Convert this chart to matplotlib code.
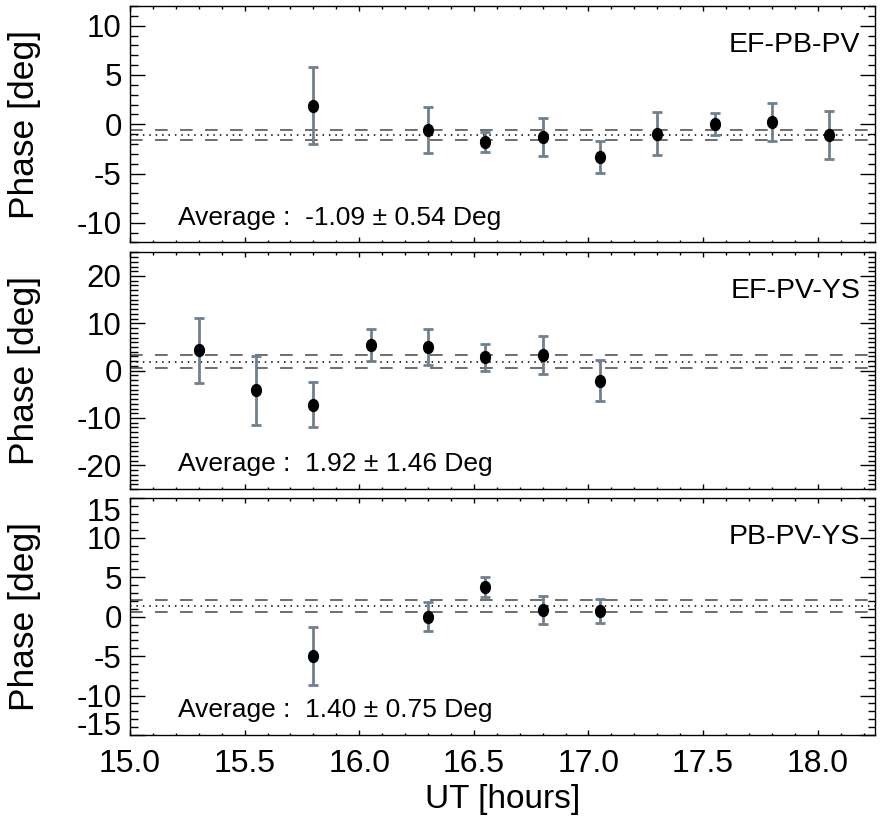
import numpy as np
import matplotlib
matplotlib.use("Agg")
import matplotlib.pyplot as plt
from matplotlib.path import Path
from matplotlib.ticker import MultipleLocator, FormatStrFormatter

plt.rcParams['font.family'] = ['Liberation Sans', 'DejaVu Sans']
plt.rcParams['axes.unicode_minus'] = False

# ---- data -------------------------------------------------------------
baselines = ["EF-PB-PV", "EF-PV-YS", "PB-PV-YS"]

ut_a = [15.80, 16.30, 16.55, 16.80, 17.05, 17.30, 17.55, 17.80, 18.05]
phase_a = [1.9, -0.6, -1.8, -1.3, -3.3, -0.95, 0.05, 0.25, -1.1]
err_a = [3.9, 2.35, 1.0, 1.9, 1.6, 2.2, 1.1, 1.9, 2.45]

ut_b = [15.30, 15.55, 15.80, 16.05, 16.30, 16.55, 16.80, 17.05]
phase_b = [4.3, -4.1, -7.2, 5.4, 5.0, 2.8, 3.3, -2.1]
err_b = [6.9, 7.3, 4.7, 3.4, 3.9, 2.8, 4.1, 4.3]

ut_c = [15.80, 16.30, 16.55, 16.80, 17.05]
phase_c = [-5.0, 0.0, 3.75, 0.85, 0.7]
err_c = [3.7, 1.8, 1.3, 1.8, 1.55]

avg_values = [-1.09, 1.92, 1.40]
avg_errors = [0.54, 1.46, 0.75]

y_limits = [(-12, 12), (-25, 25), (-15, 15)]
y_ticks = [[-10, -5, 0, 5, 10], [-20, -10, 0, 10, 20], [-15, -10, -5, 0, 5, 10, 15]]

x_limits = (15.0, 18.25)
x_ticks = [15.0, 15.5, 16.0, 16.5, 17.0, 17.5, 18.0]

series = [(ut_a, phase_a, err_a), (ut_b, phase_b, err_b), (ut_c, phase_c, err_c)]

# ---- layout -------------------------------------------------------------
W, H = 880, 822
fig = plt.figure(figsize=(W / 100, H / 100), dpi=100)

panel_px = [(6.0, 242.5), (252.3, 489.0), (498.3, 735.0)]
left_px, right_px = 130.0, 875.0

# slightly tall ellipse marker
circ = Path.unit_circle()
ell = Path(circ.vertices * np.array([0.82, 1.0]), circ.codes)

bar_color = "#6f8090"
dash_color = "#555555"

axes = []
for i, (top, bot) in enumerate(panel_px):
    ax = fig.add_axes([left_px / W, 1 - bot / H, (right_px - left_px) / W, (bot - top) / H])
    axes.append(ax)
    t, p, e = series[i]

    avg, aerr = avg_values[i], avg_errors[i]
    ax.axhline(avg, color="black", lw=1.1, ls=(0, (1, 3.2)), zorder=1)
    for yv in (avg - aerr, avg + aerr):
        ax.axhline(yv, color=dash_color, lw=1.2, ls=(0, (7.6, 7.4)), zorder=1)

    ax.errorbar(t, p, yerr=e, fmt="none", ecolor=bar_color, elinewidth=2.0,
                capsize=3.8, capthick=2.0, zorder=2)
    ax.plot(t, p, ls="none", marker=ell, ms=8.6, color="black", zorder=3)

    ax.set_xlim(*x_limits)
    ax.set_ylim(*y_limits[i])
    ax.set_xticks(x_ticks)
    ax.xaxis.set_minor_locator(MultipleLocator(0.1))
    ax.set_yticks(y_ticks[i])
    ax.yaxis.set_minor_locator(MultipleLocator(1))
    ax.yaxis.set_major_formatter(FormatStrFormatter("%d"))
    ax.xaxis.set_major_formatter(FormatStrFormatter("%.1f"))

    ax.tick_params(axis="both", which="both", direction="in", top=True, right=True,
                   color="black", width=1.0)
    ax.tick_params(axis="y", which="major", length=10.8, labelsize=22.5, pad=6)
    ax.tick_params(axis="y", which="minor", length=5.4)
    ax.tick_params(axis="x", which="major", length=3.4, labelsize=23, pad=10)
    ax.tick_params(axis="x", which="minor", length=1.8)
    for sp in ax.spines.values():
        sp.set_linewidth(1.0)

    if i < 2:
        ax.tick_params(axis="x", labelbottom=False)

    ax.set_ylabel("Phase [deg]", fontsize=25.5)
    ax.yaxis.set_label_coords(-0.119, 0.5)

    ax.text(0.98, 0.835, baselines[i], transform=ax.transAxes, ha="right", va="center",
            fontsize=20.5)
    ax.text(0.0644, 0.075, f"Average :  {avg:.2f} \u00b1 {aerr:.2f} Deg",
            transform=ax.transAxes, ha="left", va="baseline", fontsize=19)

axes[2].set_xlabel("UT [hours]", fontsize=24, labelpad=4)

# keep the edge labels of the last panel inside its frame
fig.canvas.draw()
for lab in axes[2].get_yticklabels():
    txt = lab.get_text()
    if txt == "15":
        lab.set_verticalalignment("top")
    elif txt == "-15":
        lab.set_verticalalignment("baseline")

fig.savefig("out.png", dpi=100)
